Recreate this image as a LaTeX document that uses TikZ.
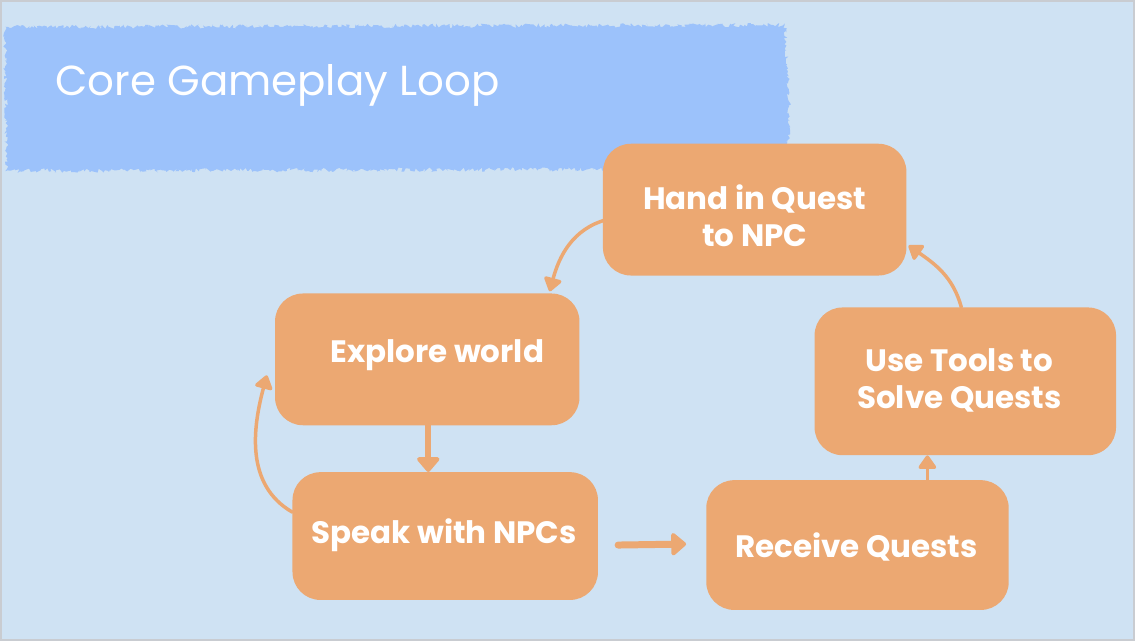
\documentclass[tikz,border=0pt]{standalone}
\usepackage{fontspec}
\setmainfont{Poppins}
\usetikzlibrary{arrows.meta,calc,decorations.pathmorphing}
\definecolor{bgblue}{HTML}{CFE2F3}
\definecolor{bandblue}{HTML}{9CC2FB}
\definecolor{brush}{HTML}{ECA872}
\definecolor{frame}{HTML}{C9CCD1}
\tikzset{
  stepbox/.style={fill=brush, rounded corners=28pt, inner sep=0pt},
  steptext/.style={text=white, align=center, inner sep=0pt,
    font=\bfseries\fontsize{31}{37}\selectfont},
  flow/.style={draw=brush, line width=3.5pt, line cap=round,
    -{Triangle[width=20pt,length=15pt,round]}},
  thickflow/.style={flow, line width=7pt, -{Triangle[width=26pt,length=16pt,round]}},
}
\begin{document}
\begin{tikzpicture}[x=1pt,y=1pt]
  \pgfmathsetseed{11}
  % canvas and thin frame
  \fill[bgblue] (0,0) rectangle (1135,-640);
  \draw[frame, line width=2pt] (0,0) rectangle (1135,-640);
  \useasboundingbox (0,0) rectangle (1135,-640);

  % title band with brushed edges
  \fill[bandblue, decorate, decoration={random steps, segment length=1.6pt, amplitude=2.2pt}]
    (4,-26) -- (785,-24) -- (790,-120) -- (786,-168) -- (6,-170) -- cycle;
  \node[anchor=base west, text=white, font=\fontsize{42}{48}\selectfont] (title) at (51,-95) {Core Gameplay Loop};

  % loop steps: brush boxes
  \node[stepbox, minimum width=304pt, minimum height=132pt] (hand) at (755,-209) {};
  \node[stepbox, minimum width=305pt, minimum height=132pt] (explore) at (427,-359) {};
  \node[stepbox, minimum width=306pt, minimum height=128pt] (speak) at (445,-536) {};
  \node[stepbox, minimum width=303pt, minimum height=130pt] (receive) at (858,-545) {};
  \node[stepbox, minimum width=302pt, minimum height=148pt] (tools) at (966,-381) {};

  % loop steps: labels
  \node[steptext] (handtext) at (755,-215) {Hand in Quest\\to NPC};
  \node[steptext, anchor=base] (exploretext) at (437,-362) {Explore world};
  \node[steptext, anchor=base] (speaktext) at (444,-543) {Speak with NPCs};
  \node[steptext, anchor=base] (receivetext) at (857,-557) {Receive Quests};
  \node[steptext] (toolstext) at (960,-380) {Use Tools to\\Solve Quests};

  % connector end points
  \path (explore.south) ++(1,0) coordinate (es);
  \path (receive.north) ++(70,0) coordinate (rn);

  % connectors
  \draw[flow] ($(hand.west)+(4,-10)$) to[out=195,in=75] ($(explore.north east)+(-30,2)$);
  \draw[flow] ($(speak.west)+(0,24)$) to[out=150,in=255] ($(explore.west)+(-8,-16)$);
  \draw[thickflow, line width=6pt] (es) -- (es |- speak.north);
  \draw[thickflow] ($(speak.east)+(20,-9)$) -- ($(receive.west)+(-20,1)$);
  \draw[flow] (rn) -- (rn |- tools.south);
  \draw[flow] ($(tools.north)+(-4,0)$) to[out=105,in=-35] ($(hand.east)+(2,-36)$);
\end{tikzpicture}
\end{document}
